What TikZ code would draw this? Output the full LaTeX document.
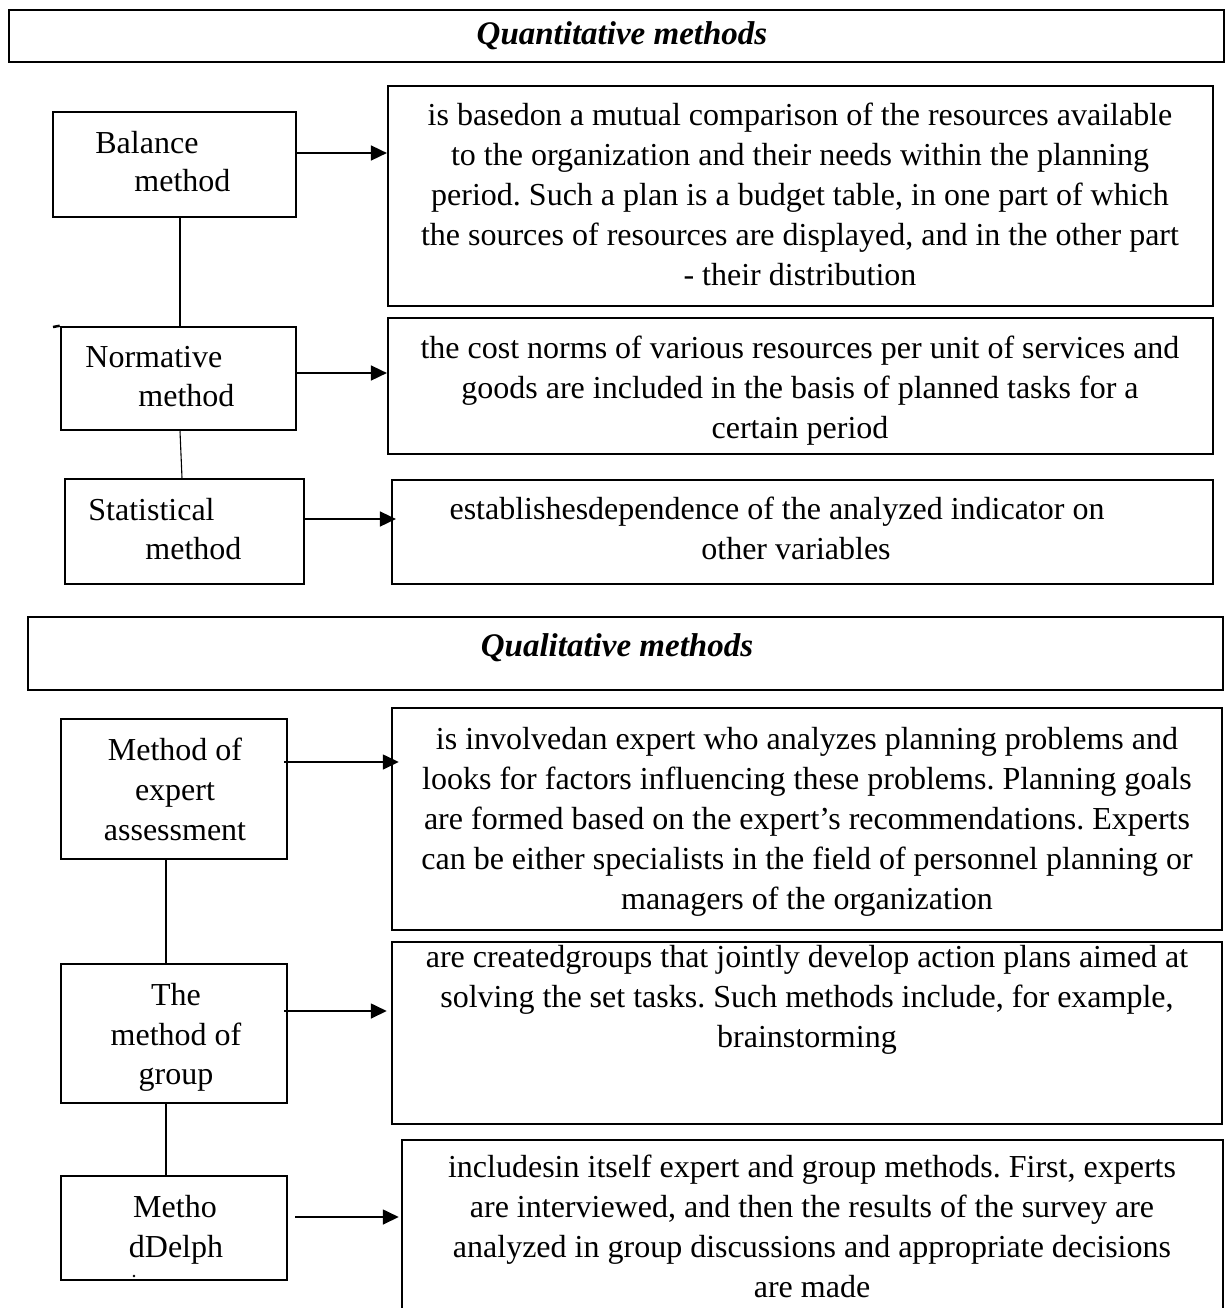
\documentclass[tikz,border=0pt]{standalone}
\usepackage{fontspec}
\setmainfont{Liberation Serif}
\usetikzlibrary{arrows.meta,fit}
\frenchspacing

% one text line per node, centred on x, baselines 40 units apart
\newcommand\textlines[4]{%
  \foreach \t [count=\i from 0] in {#4}
    \node[txt] (#1-\i) at (#2,{#3+40*\i}) {\t};}

\begin{document}
\begin{tikzpicture}[x=0.5pt,y=-0.5pt,
  frame/.style={draw,line width=1.25pt,inner sep=0pt},
  descbox/.style={draw,line width=1.1pt,inner sep=0pt},
  txt/.style={font=\fontsize{16}{20}\selectfont,inner sep=0pt,anchor=base},
  ltxt/.style={txt,anchor=base west},
  head/.style={txt,font=\fontsize{16.5}{20}\selectfont\bfseries\itshape},
  link/.style={line width=0.85pt},
  thin/.style={line width=0.55pt},
  arr/.style={line width=0.85pt,-{Triangle[length=8pt,width=7.5pt]}}]

\useasboundingbox (0,0) rectangle (1231,1308);

% ---------- quantitative part ----------
\node[frame,fit={(9,10) (1224,62)}] (quant) {};
\node[head] (quant-t) at (622,44) {Quantitative methods};

\node[frame,fit={(53,112) (296,217)}] (bal) {};
\node[ltxt] (bal-1) at (95,153) {Balance};
\node[ltxt] (bal-2) at (134,191) {method};

\node[frame,fit={(61,327) (296,430)}] (nor) {};
\coordinate (stub) at (53,327);
\draw[frame] (stub) -- (nor.north west);
\node[ltxt] (nor-1) at (85,367) {Normative};
\node[ltxt] (nor-2) at (138,406) {method};

\node[frame,fit={(65,479) (304,584)}] (sta) {};
\node[ltxt] (sta-1) at (88,520) {Statistical};
\node[ltxt] (sta-2) at (145,559) {method};

\node[descbox,fit={(388,86) (1213,306)}] (d1) {};
\textlines{d1t}{800}{125}{{is basedon a mutual comparison of the resources available},
  {to the organization and their needs within the planning},
  {period. Such a plan is a budget table, in one part of which},
  {the sources of resources are displayed, and in the other part},
  {- their distribution}}

\node[descbox,fit={(388,318) (1213,454)}] (d2) {};
\textlines{d2t}{800}{358}{{the cost norms of various resources per unit of services and},
  {goods are included in the basis of planned tasks for a},
  {certain period}}

\node[descbox,fit={(392,480) (1213,584)}] (d3) {};
\node[txt] (d3t-0) at (777,519) {establishesdependence of the analyzed indicator on};
\node[txt] (d3t-1) at (796,559) {other variables};

\draw[link] (bal.south -| 180,0) -- (nor.north -| 180,0);
\draw[thin] (nor.south -| 180,0) -- (sta.north -| 182,0);

\draw[arr] (bal.east |- 0,153) -- (d1.west |- 0,153);
\draw[arr] (nor.east |- 0,373) -- (d2.west |- 0,373);
\draw[arr,shorten >=-2.5pt] (sta.east |- 0,519) -- (d3.west |- 0,519);

% ---------- qualitative part ----------
\node[frame,fit={(28,617) (1223,690)}] (qual) {};
\node[head] (qual-t) at (617,656) {Qualitative methods};

\node[frame,fit={(61,719) (287,859)}] (exp) {};
\textlines{expt}{175}{760}{{Method of},{expert},{assessment}}

\node[frame,fit={(61,964) (287,1103)}] (grp) {};
\node[txt] (grpt-0) at (176,1005) {The};
\node[txt] (grpt-1) at (176,1045) {method of};
\node[txt] (grpt-2) at (176,1084) {group};

\node[frame,fit={(61,1176) (287,1280)}] (del) {};
\node[txt] (delt-0) at (175,1217) {Metho};
\node[txt] (delt-1) at (176,1257) {dDelph};
\fill (134,1276) circle (1.3);

\node[frame,fit={(392,708) (1222,930)}] (d4) {};
\textlines{d4t}{807}{749}{{is involvedan expert who analyzes planning problems and},
  {looks for factors influencing these problems. Planning goals},
  {are formed based on the expert's recommendations. Experts},
  {can be either specialists in the field of personnel planning or},
  {managers of the organization}}

\node[frame,fit={(392,942) (1222,1124)}] (d5) {};
\textlines{d5t}{807}{967}{{are createdgroups that jointly develop action plans aimed at},
  {solving the set tasks. Such methods include, for example,},
  {brainstorming}}

\node[frame,fit={(402,1140) (1223,1340)}] (d6) {};
\textlines{d6t}{812}{1177}{{includesin itself expert and group methods. First, experts},
  {are interviewed, and then the results of the survey are},
  {analyzed in group discussions and appropriate decisions},
  {are made}}

\draw[link] (exp.south -| 166,0) -- (grp.north -| 166,0);
\draw[link] (grp.south -| 166,0) -- (del.north -| 166,0);

\draw[arr,shorten <=-2pt,shorten >=-4pt] (exp.east |- 0,762) -- (d4.west |- 0,762);
\draw[arr,shorten <=-2pt,shorten >=2pt] (grp.east |- 0,1011) -- (d5.west |- 0,1011);
\draw[arr,shorten <=3.5pt,shorten >=1pt] (del.east |- 0,1217) -- (d6.west |- 0,1217);

\end{tikzpicture}
\end{document}
